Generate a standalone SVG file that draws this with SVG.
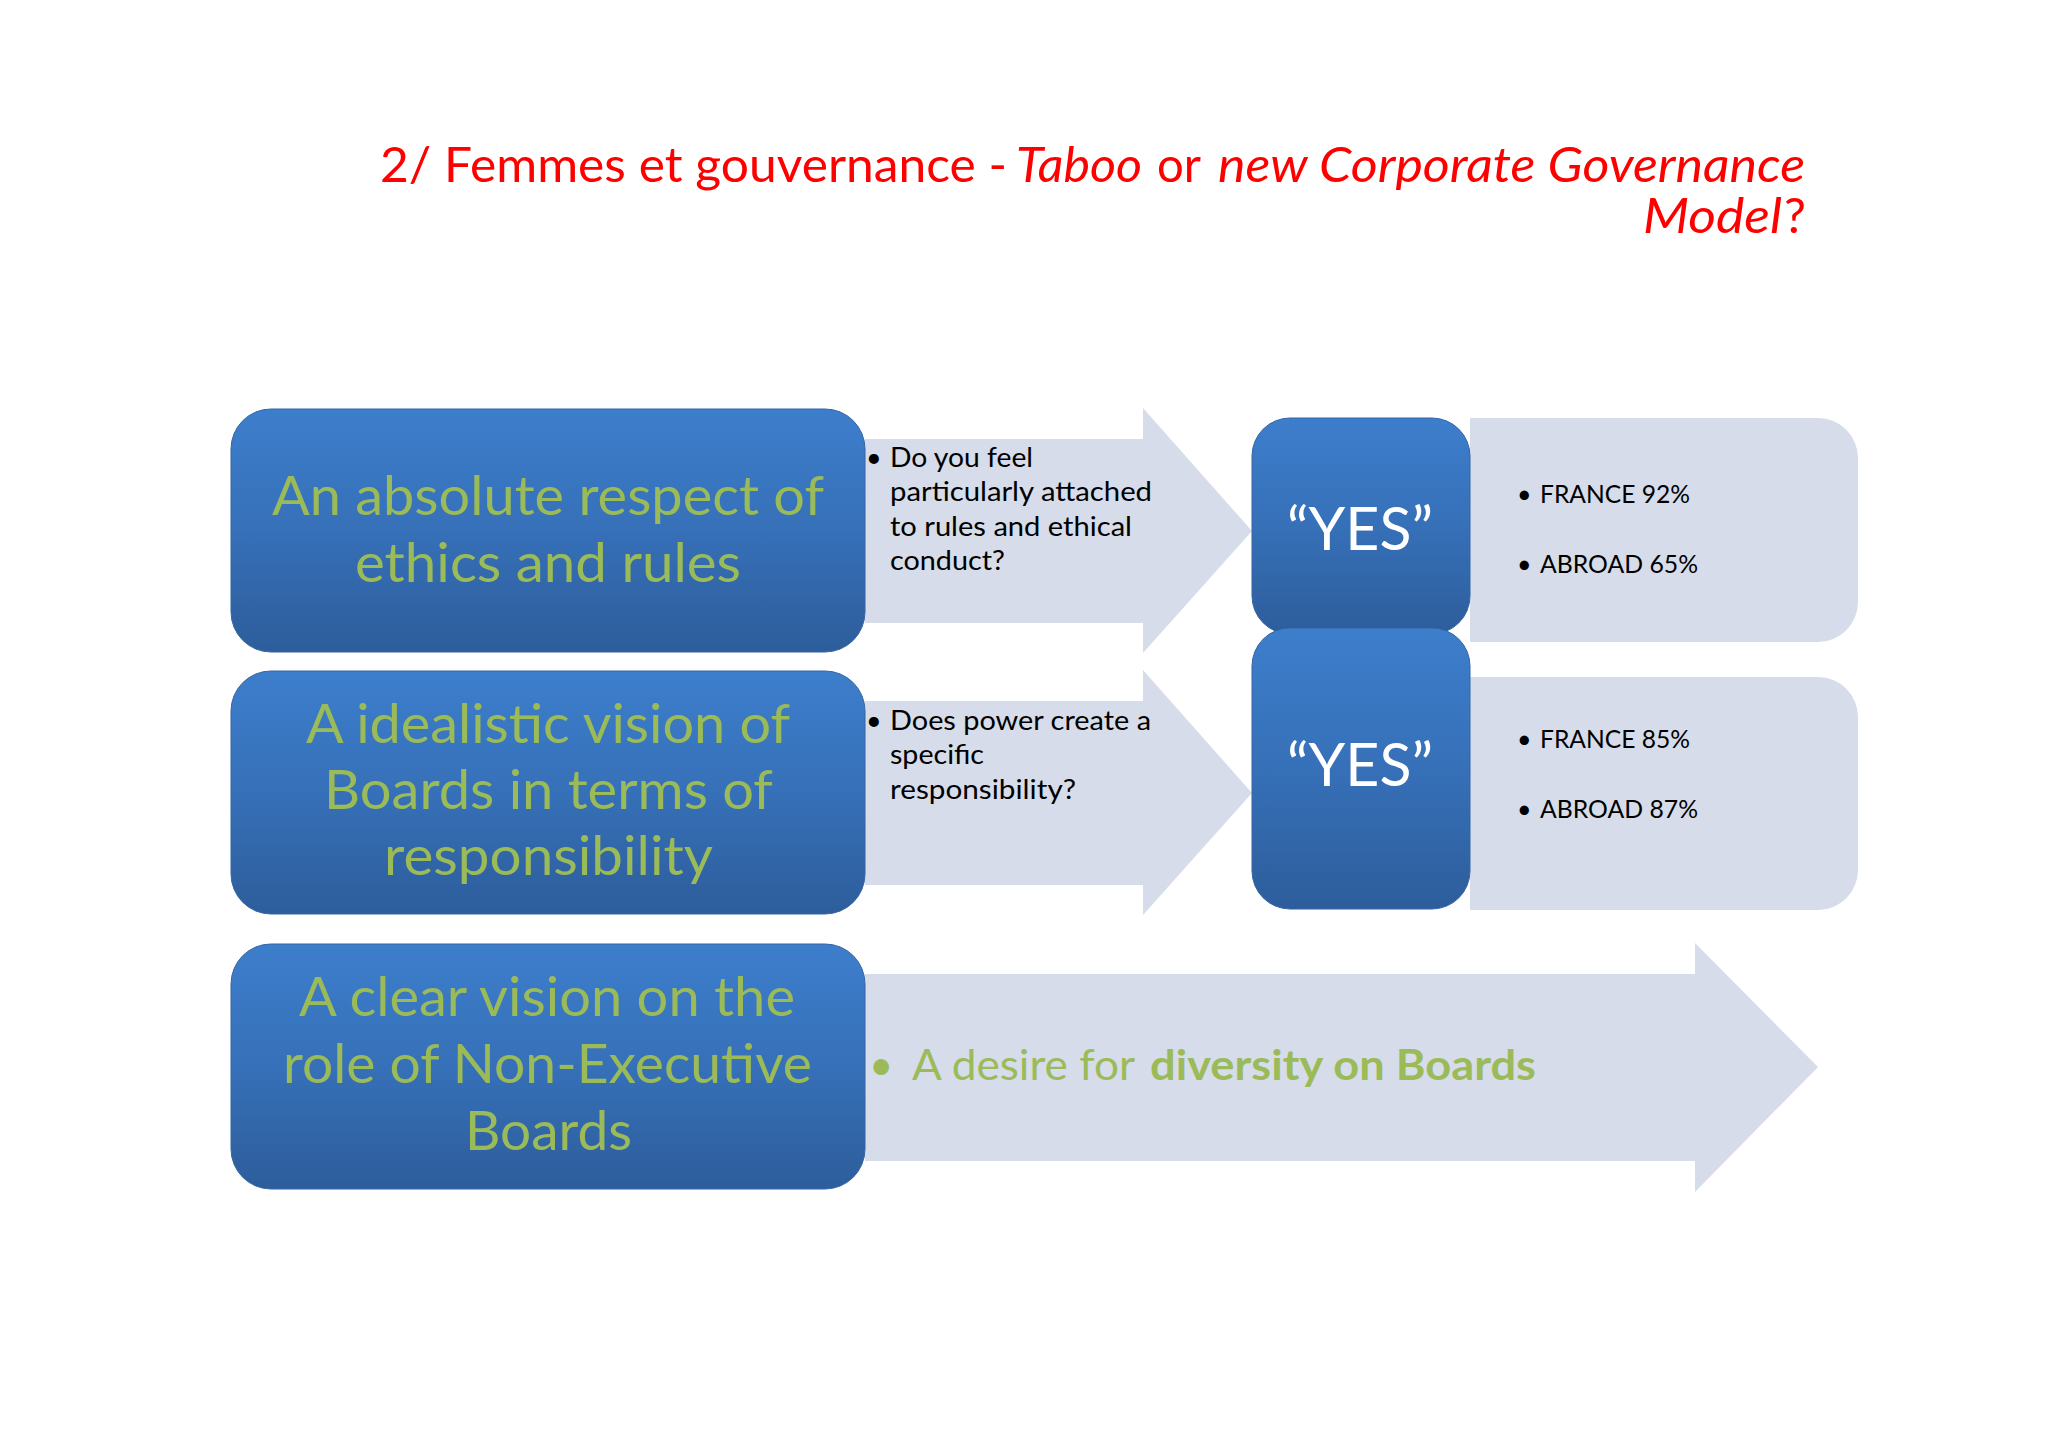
<svg xmlns="http://www.w3.org/2000/svg" width="2048" height="1448" viewBox="0 0 2048 1448">
<defs>
<linearGradient id="blue" x1="0" y1="0" x2="0" y2="1">
<stop offset="0" stop-color="#3D7ECC"/>
<stop offset="0.5" stop-color="#3670B8"/>
<stop offset="1" stop-color="#2D5D9B"/>
</linearGradient>
<style>
.box{fill:url(#blue);stroke:#3465A4;stroke-width:1}
.pale{fill:#D6DCE9}
.green{fill:#9BBB59;font-family:Lato,"Liberation Sans",sans-serif;font-size:54px}
.q{fill:#000000;font-family:Lato,"Liberation Sans",sans-serif;font-size:27px}
.p{fill:#000000;font-family:Lato,"Liberation Sans",sans-serif;font-size:25px}
.yes{fill:#FFFFFF;font-family:Lato,"Liberation Sans",sans-serif;font-size:60px;text-anchor:middle}
.title{fill:#FF0000;font-family:Lato,"Liberation Sans",sans-serif;font-size:49px}
.it{font-style:italic}
</style>
</defs>
<rect width="2048" height="1448" fill="#FFFFFF"/>

<g id="title">
<text class="title" x="380" y="182" textLength="627" lengthAdjust="spacingAndGlyphs">2/ Femmes et gouvernance -</text>
<text class="title it" x="1016" y="182" textLength="126" lengthAdjust="spacingAndGlyphs">Taboo</text>
<text class="title" x="1157" y="182" textLength="44" lengthAdjust="spacingAndGlyphs">or</text>
<text class="title it" x="1218" y="182" textLength="587" lengthAdjust="spacingAndGlyphs">new Corporate Governance</text>
<text class="title it" x="1643" y="233" textLength="139" lengthAdjust="spacingAndGlyphs">Model</text>
<text class="title" x="1784" y="233">?</text>
</g>

<g id="connectors">
<polygon class="pale" points="865,439 1143,439 1143,408 1252,531 1143,653 1143,623 865,623"/>
<polygon class="pale" points="865,701 1143,701 1143,670 1252,793 1143,915 1143,885 865,885"/>
<polygon class="pale" points="865,974 1695,974 1695,943 1818,1067 1695,1192 1695,1161 865,1161"/>
</g>

<g id="q1">
<text class="q" x="866" y="467">•</text>
<text class="q" x="890" y="467" textLength="143" lengthAdjust="spacingAndGlyphs">Do you feel</text>
<text class="q" x="890" y="501" textLength="262" lengthAdjust="spacingAndGlyphs">particularly attached</text>
<text class="q" x="890" y="536" textLength="242" lengthAdjust="spacingAndGlyphs">to rules and ethical</text>
<text class="q" x="890" y="570" textLength="115" lengthAdjust="spacingAndGlyphs">conduct?</text>
</g>

<g id="q2">
<text class="q" x="866" y="730">•</text>
<text class="q" x="890" y="730" textLength="261" lengthAdjust="spacingAndGlyphs">Does power create a</text>
<text class="q" x="890" y="764" textLength="94" lengthAdjust="spacingAndGlyphs">specific</text>
<text class="q" x="890" y="799" textLength="186" lengthAdjust="spacingAndGlyphs">responsibility?</text>
</g>

<g id="q3">
<text class="green" x="869" y="1080" style="font-size:42px">•</text>
<text class="green" x="912" y="1080" style="font-size:42px" textLength="223" lengthAdjust="spacingAndGlyphs">A desire for</text>
<text class="green" x="1150" y="1080" style="font-size:42px;font-weight:bold" textLength="386" lengthAdjust="spacingAndGlyphs">diversity on Boards</text>
</g>

<g id="panel1">
<path class="pale" d="M1470,418 H1818 A40,40 0 0 1 1858,458 V602 A40,40 0 0 1 1818,642 H1470 Z"/>
<text class="p" x="1517" y="503">•</text>
<text class="p" x="1540" y="503" textLength="150" lengthAdjust="spacingAndGlyphs">FRANCE 92%</text>
<text class="p" x="1517" y="573">•</text>
<text class="p" x="1540" y="573" textLength="158" lengthAdjust="spacingAndGlyphs">ABROAD 65%</text>
</g>

<g id="panel2">
<path class="pale" d="M1470,677 H1818 A40,40 0 0 1 1858,717 V870 A40,40 0 0 1 1818,910 H1470 Z"/>
<text class="p" x="1517" y="748">•</text>
<text class="p" x="1540" y="748" textLength="150" lengthAdjust="spacingAndGlyphs">FRANCE 85%</text>
<text class="p" x="1517" y="818">•</text>
<text class="p" x="1540" y="818" textLength="158" lengthAdjust="spacingAndGlyphs">ABROAD 87%</text>
</g>

<g id="yes1">
<rect class="box" x="1252" y="418" width="218" height="216" rx="38"/>
<text class="yes" x="1360" y="550" textLength="146" lengthAdjust="spacingAndGlyphs">“YES”</text>
</g>

<g id="yes2">
<rect class="box" x="1252" y="628" width="218" height="281" rx="38"/>
<text class="yes" x="1360" y="786" textLength="146" lengthAdjust="spacingAndGlyphs">“YES”</text>
</g>

<g id="box1">
<rect class="box" x="231" y="409" width="634" height="243" rx="40"/>
<text class="green" x="272" y="515" textLength="552" lengthAdjust="spacingAndGlyphs">An absolute respect of</text>
<text class="green" x="355" y="582" textLength="386" lengthAdjust="spacingAndGlyphs">ethics and rules</text>
</g>

<g id="box2">
<rect class="box" x="231" y="671" width="634" height="243" rx="40"/>
<text class="green" x="306" y="743" textLength="484" lengthAdjust="spacingAndGlyphs">A idealistic vision of</text>
<text class="green" x="324" y="809" textLength="449" lengthAdjust="spacingAndGlyphs">Boards in terms of</text>
<text class="green" x="384" y="875" textLength="329" lengthAdjust="spacingAndGlyphs">responsibility</text>
</g>

<g id="box3">
<rect class="box" x="231" y="944" width="634" height="245" rx="40"/>
<text class="green" x="299" y="1016" textLength="496" lengthAdjust="spacingAndGlyphs">A clear vision on the</text>
<text class="green" x="283" y="1083" textLength="529" lengthAdjust="spacingAndGlyphs">role of Non-Executive</text>
<text class="green" x="465" y="1150" textLength="167" lengthAdjust="spacingAndGlyphs">Boards</text>
</g>
</svg>
